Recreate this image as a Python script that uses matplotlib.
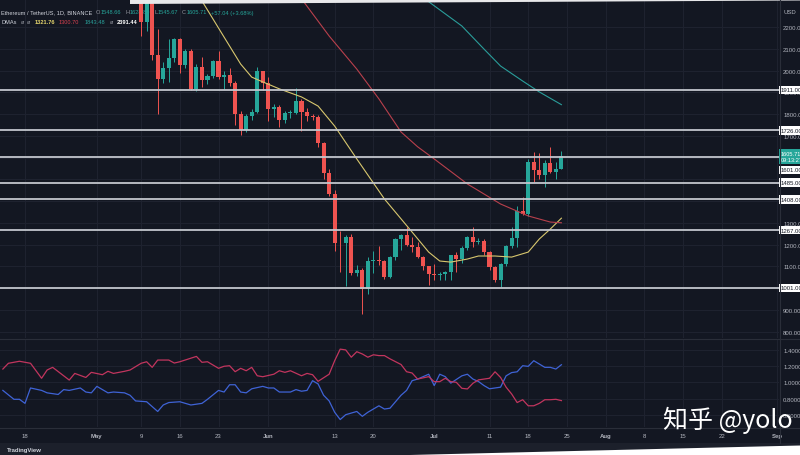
import matplotlib
matplotlib.use("Agg")
import matplotlib.pyplot as plt
import matplotlib.transforms as mtransforms
from matplotlib.patches import Polygon, Rectangle
from matplotlib.lines import Line2D
import numpy as np

W, H = 800, 456

# ETHUSDT 1D (Binance), candles 2022-05-09 .. 2022-07-24
# x axis = days since 2022-04-18
first_day = 21
opens = [2397, 2225, 2342, 2072, 1961, 2014, 2058, 2145, 2024, 2090, 1914, 2018, 1959, 1975, 2043, 1972,
         1979, 1944, 1802, 1725, 1792, 1812, 1996,
         1941, 1822, 1833, 1775, 1805, 1806, 1859, 1812, 1793, 1789, 1665, 1529, 1432, 1208, 1207,
         1234, 1068, 1085, 996, 1127, 1128, 1125, 1051, 1144, 1225, 1243, 1198, 1190, 1142, 1100,
         1067, 1060, 1067, 1074, 1151, 1134, 1186, 1237, 1213, 1217, 1167, 1097, 1038, 1113, 1192,
         1233, 1353, 1339, 1580, 1542, 1521, 1577, 1536, 1548.66]
highs = [2403, 2453, 2450, 2190, 2040, 2145, 2150, 2150, 2100, 2100, 2030, 2062, 1985, 2050, 2088, 1998,
         2010, 1950, 1815, 1800, 1822, 2016, 2000,
         1972, 1847, 1840, 1815, 1820, 1918, 1870, 1830, 1800, 1795, 1670, 1548, 1450, 1264, 1245,
         1250, 1107, 1092, 1143, 1171, 1192, 1131, 1146, 1232, 1250, 1280, 1235, 1213, 1149, 1104,
         1110, 1073, 1080, 1152, 1165, 1193, 1242, 1280, 1232, 1225, 1169, 1102, 1116, 1198, 1280,
         1376, 1420, 1593, 1625, 1620, 1590, 1648, 1580, 1628.8]
lows = [2160, 2180, 2050, 1800, 1945, 1948, 2040, 1990, 2010, 1910, 1905, 1925, 1940, 1965, 1960, 1915,
        1930, 1750, 1705, 1716, 1775, 1805, 1913,
        1767, 1788, 1743, 1757, 1780, 1802, 1722, 1770, 1775, 1650, 1500, 1423, 1170, 1074, 1010,
        1060, 1056, 881, 975, 1072, 1108, 1042, 1045, 1130, 1175, 1192, 1168, 1139, 1083, 1015,
        1040, 1037, 1040, 1040, 1074, 1114, 1176, 1190, 1201, 1153, 1085, 1030, 1006, 1100, 1184,
        1190, 1335, 1333, 1488, 1500, 1463, 1530, 1503, 1545.67]
closes = [2225, 2342, 2072, 1961, 2014, 2058, 2145, 2024, 2090, 1914, 2018, 1959, 1975, 2043, 1972, 1979,
          1944, 1802, 1725, 1792, 1812, 1996, 1941,
          1822, 1833, 1775, 1805, 1806, 1859, 1812, 1793, 1789, 1665, 1529, 1432, 1208, 1207, 1234,
          1068, 1085, 996, 1127, 1128, 1125, 1051, 1144, 1225, 1243, 1198, 1190, 1142, 1100, 1067,
          1060, 1067, 1074, 1151, 1134, 1186, 1237, 1213, 1217, 1167, 1097, 1038, 1113, 1192, 1233,
          1353, 1339, 1580, 1542, 1521, 1577, 1536, 1549, 1605.71]

# moving averages (day, value)
ma20_days = [32, 36, 39, 41, 43, 46, 50, 53, 56, 60, 65, 70, 73, 75, 77, 80, 82, 85, 88, 91, 93, 95, 97]
ma20_vals = [2320, 2154, 2030, 1970, 1948, 1916, 1879, 1837, 1745, 1594, 1410, 1258, 1166, 1125, 1120,
             1134, 1148, 1148, 1143, 1166, 1226, 1272, 1321.76]
ma50_days = [50, 55, 60, 64, 68, 71, 74, 80, 86, 91, 95, 97]
ma50_vals = [2330, 2159, 2007, 1870, 1718, 1650, 1594, 1479, 1387, 1332, 1304, 1300.70]
ma100_days = [72, 79, 83, 86, 90, 93, 97]
ma100_vals = [2335, 2205, 2099, 2021, 1952, 1902, 1843.48]

# vortex indicator VI(14)
vip_days = [-4, -2, -1, 0, 1, 3, 4, 6, 7, 8, 10, 11, 12, 13, 15, 16, 18, 19, 20, 22, 24, 25, 26, 28, 29,
            30, 32, 33, 35, 36, 37, 38, 39, 40, 41, 43, 44, 45, 46, 48, 49, 50, 51, 52, 53, 54, 55, 56,
            57, 58, 60, 61, 62, 64, 65, 66, 68, 69, 70, 71, 73, 74, 75, 76, 77, 79, 80, 81, 82, 83, 84,
            86, 87, 88, 89, 90, 91, 92, 93, 94, 95, 96, 97]
vip_vals = [0.90, 0.79, 0.79, 0.74, 0.93, 0.90, 0.87, 0.85, 0.91, 0.90, 0.93, 0.88, 0.87, 0.95, 0.87,
            0.88, 0.87, 0.84, 0.77, 0.76, 0.64, 0.72, 0.75, 0.76, 0.74, 0.72, 0.74, 0.79, 0.90, 0.88,
            0.97, 0.97, 0.88, 0.87, 0.92, 0.95, 0.93, 0.93, 0.88, 0.88, 0.91, 0.89, 0.90, 1.02, 0.98,
            0.84, 0.77, 0.63, 0.54, 0.60, 0.64, 0.58, 0.63, 0.71, 0.67, 0.68, 0.84, 0.90, 1.02, 1.04,
            1.10, 0.96, 1.10, 1.07, 0.99, 1.08, 1.10, 1.04, 1.01, 0.96, 0.92, 0.94, 1.08, 1.12, 1.13,
            1.205, 1.197, 1.267, 1.226, 1.185, 1.185, 1.164, 1.217]
vim_days = [-4, -3, -1, 1, 3, 4, 5, 8, 9, 11, 12, 14, 15, 16, 18, 19, 21, 22, 23, 24, 26, 27, 28, 31, 32,
            33, 35, 36, 37, 38, 39, 40, 41, 42, 43, 45, 46, 47, 48, 50, 51, 52, 53, 55, 56, 57, 58, 59,
            60, 61, 62, 63, 64, 65, 66, 68, 69, 70, 71, 73, 74, 75, 76, 77, 78, 79, 80, 81, 82, 84, 85,
            86, 87, 88, 89, 90, 91, 92, 93, 94, 95, 96, 97]
vim_vals = [1.164, 1.235, 1.26, 1.235, 1.05, 1.152, 1.185, 1.028, 1.11, 1.06, 1.123, 1.094, 1.136, 1.11,
            1.136, 1.152, 1.235, 1.254, 1.185, 1.275, 1.275, 1.238, 1.254, 1.32, 1.247, 1.254, 1.173,
            1.198, 1.205, 1.131, 1.173, 1.143, 1.185, 1.081, 1.069, 1.10, 1.143, 1.123, 1.143, 1.081,
            1.11, 1.094, 1.012, 1.10, 1.267, 1.41, 1.40, 1.31, 1.378, 1.35, 1.31, 1.34, 1.33, 1.33,
            1.29, 1.22, 1.131, 1.115, 1.04, 1.07, 1.008, 1.008, 1.05, 1.008, 1.0, 0.926, 0.918, 0.988,
            1.03, 1.05, 1.13, 1.06, 0.94, 0.856, 0.75, 0.785, 0.71, 0.71, 0.74, 0.785, 0.785, 0.79, 0.774]

level_prices = [1911, 1726, 1601, 1485, 1408, 1267, 1001]
date_ticks = [0, 13, 21, 28, 35, 44, 56, 63, 74, 84, 91, 98, 105, 112, 119, 126, 136]
date_labels = ["18", "May", "9", "16", "23", "Jun", "13", "20", "Jul", "11", "18", "25",
               "Aug", "8", "15", "22", "Sep"]
months = {"May", "Jun", "Jul", "Aug", "Sep"}
price_ticks = list(range(800, 2201, 100))
vi_ticks = [0.6, 0.8, 1.0, 1.2, 1.4]

BG = "#131722"
GRID = "#1f2330"
TXT = "#b2b5be"
GREEN = "#26a69a"
RED = "#ef5350"

plt.rcParams["font.family"] = ["Liberation Sans", "DejaVu Sans"]

fig = plt.figure(figsize=(W / 100, H / 100), dpi=100, facecolor=BG)
ax = fig.add_axes([0, 1 - 339 / H, 779 / W, 339 / H], facecolor=BG)
ax2 = fig.add_axes([0, 1 - 428 / H, 779 / W, 88 / H], facecolor=BG)

for a in (ax, ax2):
    a.set_xlim(-4.52, 136.35)
    for s in a.spines.values():
        s.set_visible(False)
    a.set_xticks(date_ticks)
    a.grid(True, color=GRID, lw=0.7)
    a.set_axisbelow(True)
    a.yaxis.tick_right()
    a.tick_params(axis="y", length=0, pad=3, labelsize=4.3, labelcolor=TXT)
    a.tick_params(axis="x", length=0)

ax.set_ylim(771.2, 2329)
ax.set_yticks(price_ticks, ["%.2f" % p for p in price_ticks])
ax.tick_params(axis="x", labelbottom=False)

ax2.set_ylim(0.448, 1.535)
ax2.set_yticks(vi_ticks, ["%.4f" % v for v in vi_ticks])
ax2.set_xticks(date_ticks, date_labels)
ax2.tick_params(axis="x", labelsize=4.3, labelcolor=TXT, pad=4.5)
for lbl in ax2.get_xticklabels():
    if lbl.get_text() in months:
        lbl.set_fontweight("bold")

# candles
days = first_day + np.arange(len(closes))
o = np.array(opens, float)
c = np.array(closes, float)
col = np.where(c >= o, GREEN, RED)
ax.vlines(days, lows, highs, colors=col, lw=0.7, zorder=3)
ax.bar(days, np.maximum(np.abs(c - o), 3), bottom=np.minimum(o, c), width=0.74,
       color=col, linewidth=0, zorder=4)

# moving averages
ax.plot(ma20_days, ma20_vals, color="#d8c76e", lw=0.8, zorder=5)
ax.plot(ma50_days, ma50_vals, color="#b8404c", lw=0.8, zorder=5)
ax.plot(ma100_days, ma100_vals, color="#2a9d9a", lw=0.8, zorder=5)

# support / resistance levels
for p in level_prices:
    ax.axhline(p, color="#c3c6cd", lw=1.3, zorder=6)

# vortex lines
ax2.plot(vip_days, vip_vals, color="#3f63d6", lw=0.9)
ax2.plot(vim_days, vim_vals, color="#c2355e", lw=0.9)

# right-hand price labels
tr = mtransforms.blended_transform_factory(fig.transFigure, ax.transData)
for p in level_prices:
    if p == 1601:
        ax.annotate("%.2f" % p, xy=(781 / W, p), xycoords=tr, xytext=(0, -9), textcoords="offset points",
                    fontsize=4.3, color=BG, va="center", ha="left", annotation_clip=False, zorder=8,
                    bbox=dict(boxstyle="square,pad=0.3", fc="white", ec="none"))
    else:
        ax.text(781 / W, p, "%.2f" % p, transform=tr, fontsize=4.3, color=BG, va="center", ha="left",
                zorder=8, bbox=dict(boxstyle="square,pad=0.3", fc="white", ec="none"))
ax.text(781 / W, closes[-1], "%.2f\n09:13:27" % closes[-1], transform=tr, fontsize=4.1, color="white",
        va="center", ha="left", linespacing=1.15, zorder=9,
        bbox=dict(boxstyle="square,pad=0.35", fc=GREEN, ec="none"))
fig.text(783 / W, 1 - 13 / H, "USD", fontsize=4.3, color=TXT, va="center")

# legend rows
renderer = fig.canvas.get_renderer()


def text_row(x_px, y_px, parts, size=4.1):
    x = x_px
    for s, colr, gap, bold in parts:
        t = ax.text(x / W, 1 - y_px / H, s, color=colr, fontsize=size, transform=fig.transFigure,
                    va="center", ha="left", zorder=1, fontweight="bold" if bold else "normal")
        x += t.get_window_extent(renderer=renderer).width + gap


GR = "#9598a1"
text_row(1, 13, [("Ethereum / TetherUS, 1D, BINANCE", "#d1d4dc", 4, False),
                 ("O", GR, 0.3, False), ("1548.66", GREEN, 4, False),
                 ("H", GR, 0.3, False), ("1628.80", GREEN, 4, False),
                 ("L", GR, 0.3, False), ("1545.67", GREEN, 4, False),
                 ("C", GR, 0.3, False), ("1605.71", GREEN, 4, False),
                 ("+57.04 (+3.68%)", GREEN, 0, False)])
text_row(1, 23, [("DMAs", "#d1d4dc", 4, False), ("ø", GR, 3, False), ("ø", GR, 4, False),
                 ("1321.76", "#e3d36c", 4, True), ("1300.70", "#d9414f", 5, False),
                 ("1843.48", "#2aa39d", 5, False), ("ø", GR, 4, False), ("2391.44", "white", 0, True)])
text_row(2, 348, [("I (14)", "#d1d4dc", 4, False), ("1.2170", "#3f63d6", 5, False),
                  ("0.7740", "#c2355e", 0, False)])

# panel separators and frame bits
for yy in (339.5, 428.5):
    fig.add_artist(Line2D([0, 1], [1 - yy / H] * 2, color="#2a2e39", lw=0.8))
fig.add_artist(Line2D([779.5 / W] * 2, [1 - 444 / H, 1], color="#2a2e39", lw=0.8))
fig.add_artist(Rectangle((0, 0), 1, 12 / H, color="#1c202b", lw=0))
fig.text(7 / W, 1 - 450.5 / H, "TradingView", fontsize=4.3, color="#d1d4dc", fontweight="bold", va="center")
fig.add_artist(Polygon([(410 / W, 0), (1, 9.5 / H), (1, 0)], closed=True, fc="white", ec="none"))
fig.add_artist(Polygon([(130 / W, 1), (1, 1), (1, 1 - 1.5 / H), (130 / W, 1 - 5 / H)], closed=True,
                       fc="#e8e8ea", ec="none"))

# watermark
fig.text(663 / W, 1 - 420 / H, "知乎 @yolo", fontsize=18, color="white", va="center", ha="left",
         family=["Noto Sans CJK SC", "DejaVu Sans"])

fig.savefig("out.png", dpi=100, facecolor=BG)
